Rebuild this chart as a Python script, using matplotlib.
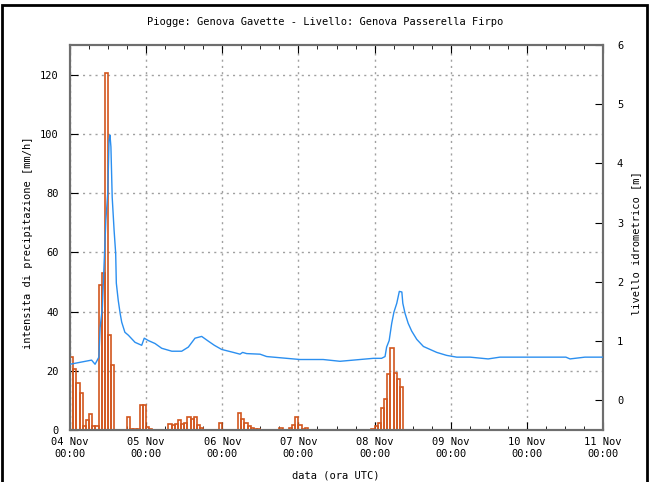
import numpy as np
import pandas as pd
import matplotlib
matplotlib.use('Agg')
import matplotlib.pyplot as plt
import matplotlib.dates as mdates
from matplotlib.patches import Rectangle

# piogge orarie (mm/h), ore dall'inizio del 04 Nov 00:00 UTC
rain_hours = [0, 1, 2, 3, 4, 5, 6, 7, 8, 9, 10, 11, 12, 13, 18, 19, 20, 21, 22, 23, 24, 25,
              31, 32, 33, 34, 35, 36, 37, 38, 39, 40, 41, 47,
              53, 54, 55, 56, 57, 58, 59, 66, 69, 70, 71, 72, 73, 74,
              95, 96, 97, 98, 99, 100, 101, 102, 103, 104]
rain_mm = [24.5, 20.5, 15.8, 12.6, 1.5, 3.4, 5.4, 1.5, 1.3, 49, 53, 120.7, 32, 22, 4.5, 0.3, 0.3, 0.3, 8.4, 8.4, 1.1, 0.5,
           1.9, 1.6, 1.9, 3.4, 1.9, 2.5, 4.5, 3.7, 4.5, 1.6, 0.7, 2.4,
           5.6, 3.6, 2.4, 1.3, 0.8, 0.5, 0.5, 0.6, 0.6, 1.8, 4.5, 1.8, 0.3, 0.6,
           0.5, 1.5, 2.5, 7.3, 10.4, 18.8, 27.6, 19.1, 17.1, 14.6]

# livello idrometrico (m)
level_hours = [0, 6.8, 7.9, 9.1, 9.5, 10.2, 10.8, 11.3, 11.9, 12.3, 12.6, 12.9, 13.3, 13.9, 14.4, 14.6,
               15.2, 15.8, 16.3, 17.3, 18.4, 20.5, 22.6, 23.4, 24.7, 26.8, 28.9, 32.1, 35.2, 37.3,
               39.4, 41.5, 43.6, 45.5, 47.8, 51.5, 53.6, 54.4, 55.7, 59.9, 62.0, 68.3, 72.5, 79.8,
               85.1, 91.4, 95.6, 98.2, 99.3, 99.8, 100.6, 101.4, 102.1, 103.0, 103.8, 104.6, 104.9,
               105.6, 106.6, 107.7, 109.3, 111.4, 113.5, 115.6, 118.7, 121.9, 126.1, 131.8, 135.5,
               156.3, 157.6, 162.3, 168]
level_m = [0.61, 0.68, 0.61, 0.73, 1.23, 1.57, 2.37, 3.04, 3.50, 4.39, 4.48, 4.28, 3.43, 2.87, 2.48, 1.98,
           1.69, 1.47, 1.32, 1.15, 1.10, 0.98, 0.93, 1.05, 1.01, 0.96, 0.88, 0.83, 0.83, 0.90,
           1.05, 1.08, 1.00, 0.93, 0.86, 0.81, 0.78, 0.81, 0.79, 0.78, 0.74, 0.71, 0.69, 0.69,
           0.66, 0.69, 0.71, 0.71, 0.74, 0.90, 1.01, 1.30, 1.49, 1.64, 1.84, 1.83, 1.64,
           1.47, 1.30, 1.17, 1.03, 0.91, 0.86, 0.81, 0.76, 0.73, 0.73, 0.70, 0.73,
           0.73, 0.70, 0.73, 0.73]

t0 = pd.Timestamp('2011-11-04 00:00')
rain_t = [t0 + pd.Timedelta(hours=h) for h in rain_hours]
level_t = [t0 + pd.Timedelta(hours=h) for h in level_hours]

mono = 'DejaVu Sans Mono'
fs = 7.5

fig = plt.figure(figsize=(6.5, 4.82), dpi=100)
ax = fig.add_axes([70/650, 1-430/482, (603-70)/650, (430-45)/482])
ax2 = ax.twinx()

ax.bar(rain_t, rain_mm, width=1/24, align='edge', fill=False,
       edgecolor='#d2561e', linewidth=1.2, zorder=3)
ax2.plot(level_t, level_m, color='#2b8ff0', linewidth=1.0, zorder=4)

ax.set_xlim(t0, t0 + pd.Timedelta(days=7))
ax.set_ylim(0, 130)
ax2.set_ylim(-0.5, 6)
ax.set_yticks(np.arange(0, 121, 20))
ax2.set_yticks(np.arange(0, 7, 1))

ax.xaxis.set_major_locator(mdates.DayLocator())
ax.xaxis.set_minor_locator(mdates.HourLocator(byhour=[6, 12, 18]))
ax.xaxis.set_major_formatter(mdates.DateFormatter('%d %b\n%H:%M'))

ax.grid(True, which='major', linestyle=(0, (1.5, 3)), color='#a0a0a0', linewidth=1)
ax.set_axisbelow(True)

ax.tick_params(axis='x', which='both', direction='in', top=True, pad=5)
ax.tick_params(axis='x', which='major', length=6, labelsize=fs)
ax.tick_params(axis='x', which='minor', length=3)
ax.tick_params(axis='y', direction='in', length=6, labelsize=fs, pad=8)
ax2.tick_params(axis='y', direction='in', length=6, labelsize=fs, pad=10)

for lab in ax.get_xticklabels() + ax.get_yticklabels() + ax2.get_yticklabels():
    lab.set_family(mono)

for a in (ax, ax2):
    for s in a.spines.values():
        s.set_color('#6e6e6e')
        s.set_linewidth(1.5)

fig.text(0.5, 1-22/482, 'Piogge: Genova Gavette - Livello: Genova Passerella Firpo',
         ha='center', va='center', family=mono, fontsize=fs)
fig.text(336/650, 1-475/482, 'data (ora UTC)', ha='center', va='center', family=mono, fontsize=fs)
fig.text(28/650, 1-243/482, 'intensita di precipitazione [mm/h]', ha='center', va='center',
         rotation=90, family=mono, fontsize=fs)
fig.text(636/650, 1-243/482, 'livello idrometrico [m]', ha='center', va='center',
         rotation=90, family=mono, fontsize=fs)

fig.patches.append(Rectangle((2/650, -0.02), 645/650, 1-5/482+0.02, transform=fig.transFigure,
                             fill=False, edgecolor='black', linewidth=2))

fig.savefig('out.png', dpi=100)
